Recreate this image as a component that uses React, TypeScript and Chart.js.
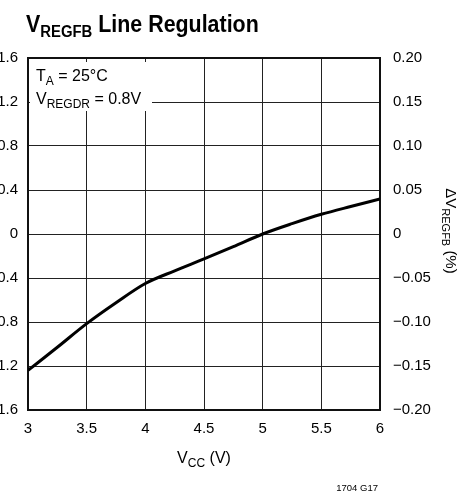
import React, { useEffect, useRef } from "react";
import { Chart, registerables } from "chart.js";

Chart.register(...registerables);

// ---- data ----
const vcc = [3, 3.25, 3.5, 3.75, 4, 4.25, 4.5, 4.75, 5, 5.25, 5.5, 5.75, 6];
const deltaV = [-1.24, -1.03, -0.815, -0.625, -0.45, -0.335, -0.227, -0.115, 0, 0.094, 0.179, 0.25, 0.318];

const xTickLabels = ["3", "3.5", "4", "4.5", "5", "5.5", "6"];
const leftTickLabels = ["−1.6", "−1.2", "−0.8", "−0.4", "0", "0.4", "0.8", "1.2", "1.6"];
const rightTickLabels = ["−0.20", "−0.15", "−0.10", "−0.05", "0", "0.05", "0.10", "0.15", "0.20"];

const FONT = '"Liberation Sans", Arial, Helvetica, sans-serif';
const SHIFT = 20; // canvas is shifted left so the left tick labels are clipped like the reference

type Seg = { t: string; size: number; bold?: boolean; dy?: number };

function drawRich(
  ctx: CanvasRenderingContext2D,
  segs: Seg[],
  x: number,
  y: number,
  align: "left" | "center" | "right",
  sx = 1
) {
  ctx.save();
  ctx.textBaseline = "alphabetic";
  ctx.textAlign = "left";
  ctx.fillStyle = "#000";
  const fontOf = (s: Seg) => `${s.bold ? "bold " : ""}${s.size}px ${FONT}`;
  let total = 0;
  const widths = segs.map((s) => {
    ctx.font = fontOf(s);
    const w = ctx.measureText(s.t).width;
    total += w;
    return w;
  });
  ctx.translate(x, y);
  ctx.scale(sx, 1);
  let cx = align === "left" ? 0 : align === "center" ? -total / 2 : -total;
  segs.forEach((s, i) => {
    ctx.font = fontOf(s);
    ctx.fillText(s.t, cx, s.dy || 0);
    cx += widths[i];
  });
  ctx.restore();
}

const decorPlugin = {
  id: "decor",
  beforeDatasetsDraw(chart: any) {
    const ctx: CanvasRenderingContext2D = chart.ctx;
    const a = chart.chartArea;
    // annotation box
    ctx.save();
    ctx.fillStyle = "#fff";
    ctx.fillRect(a.left + 2, 62, 172 - a.left - 2, 111 - 62);
    ctx.restore();
    drawRich(ctx, [
      { t: "T", size: 16 },
      { t: "A", size: 12, dy: 4 },
      { t: " = 25°C", size: 16 },
    ], a.left + 8, 80.5, "left");
    drawRich(ctx, [
      { t: "V", size: 16 },
      { t: "REGDR", size: 12, dy: 4 },
      { t: " = 0.8V", size: 16 },
    ], a.left + 8, 104, "left");
    // frame
    ctx.save();
    ctx.strokeStyle = "#111";
    ctx.lineWidth = 2;
    ctx.strokeRect(a.left, a.top, a.right - a.left, a.bottom - a.top);
    ctx.restore();
  },
  afterDraw(chart: any) {
    const ctx: CanvasRenderingContext2D = chart.ctx;
    const a = chart.chartArea;
    // title
    drawRich(ctx, [
      { t: "V", size: 23, bold: true },
      { t: "REGFB", size: 16, bold: true, dy: 5 },
      { t: " Line Regulation", size: 23, bold: true },
    ], 26 + SHIFT, 31.5, "left", 0.93);
    // x axis title
    drawRich(ctx, [
      { t: "V", size: 16 },
      { t: "CC", size: 12, dy: 4 },
      { t: " (V)", size: 16 },
    ], (a.left + a.right) / 2, 463, "center");
    // right axis title (rotated clockwise)
    ctx.save();
    ctx.translate(451 + SHIFT, 231);
    ctx.rotate(Math.PI / 2);
    drawRich(ctx, [
      { t: "ΔV", size: 15 },
      { t: "REGFB", size: 11, dy: 4 },
      { t: " (%)", size: 15 },
    ], 0, 5.5, "center");
    ctx.restore();
    // footnote
    drawRich(ctx, [{ t: "1704 G17", size: 9.5 }], 378 + SHIFT, 491, "right");
  },
};

export default function App() {
  const ref = useRef<HTMLCanvasElement | null>(null);
  useEffect(() => {
    if (!ref.current) return;
    const tickFont = { family: FONT, size: 15 };
    const chart = new Chart(ref.current, {
      type: "line",
      data: {
        datasets: [
          {
            data: vcc.map((x, i) => ({ x, y: deltaV[i] })),
            borderColor: "#000",
            borderWidth: 3,
            pointRadius: 0,
            tension: 0.4,
            cubicInterpolationMode: "monotone",
            fill: false,
            yAxisID: "y",
          },
        ],
      },
      options: {
        responsive: false,
        animation: false,
        events: [],
        layout: { padding: { top: 58, left: 0, right: 0, bottom: 0 } },
        plugins: { legend: { display: false }, tooltip: { enabled: false }, title: { display: false } },
        scales: {
          x: {
            type: "linear",
            min: 3,
            max: 6,
            ticks: {
              stepSize: 0.5,
              autoSkip: false,
              maxRotation: 0,
              padding: 10,
              color: "#000",
              font: tickFont,
              callback: (v: any) => xTickLabels[Math.round((Number(v) - 3) / 0.5)],
            },
            grid: { color: "#222", lineWidth: 1, drawTicks: false },
            border: { display: false },
            afterFit: (s: any) => {
              s.height = 83;
            },
          },
          y: {
            type: "linear",
            position: "left",
            min: -1.6,
            max: 1.6,
            ticks: {
              stepSize: 0.4,
              padding: 10,
              color: "#000",
              font: tickFont,
              callback: (v: any) => leftTickLabels[Math.round((Number(v) + 1.6) / 0.4)],
            },
            grid: { color: "#222", lineWidth: 1, drawTicks: false },
            border: { display: false },
            afterFit: (s: any) => {
              s.width = 28 + SHIFT;
            },
          },
          y2: {
            type: "linear",
            position: "right",
            min: -0.2,
            max: 0.2,
            ticks: {
              stepSize: 0.05,
              padding: 13,
              color: "#000",
              font: tickFont,
              callback: (v: any) => rightTickLabels[Math.round((Number(v) + 0.2) / 0.05)],
            },
            grid: { display: false, drawTicks: false },
            border: { display: false },
            afterFit: (s: any) => {
              s.width = 494 - 380 - SHIFT;
            },
          },
        },
      } as any,
      plugins: [decorPlugin],
    });
    return () => chart.destroy();
  }, []);

  return (
    <div style={{ position: "fixed", left: -SHIFT, top: 0, width: 474 + SHIFT, height: 493, background: "#fff" }}>
      <canvas ref={ref} width={474 + SHIFT} height={493} style={{ display: "block", width: 474 + SHIFT, height: 493 }} />
    </div>
  );
}
